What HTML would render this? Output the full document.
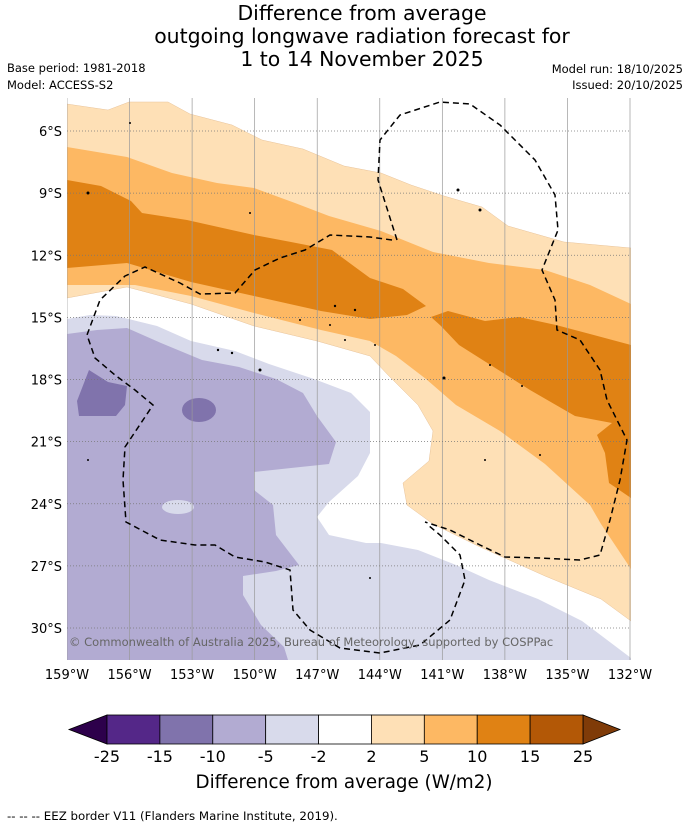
<!DOCTYPE html>
<html><head><meta charset="utf-8"><style>
body{margin:0;background:#fff;font-family:"Liberation Sans","DejaVu Sans",sans-serif}
svg{display:block}
</style></head><body>
<svg id="chart" width="690" height="827" viewBox="0 0 690 827" xmlns="http://www.w3.org/2000/svg">
<g font-family="DejaVu Sans, Liberation Sans, sans-serif" fill="#000">
<text x="362" y="20" font-size="20.4" text-anchor="middle">Difference from average</text>
<text x="362" y="43" font-size="20.4" text-anchor="middle">outgoing longwave radiation forecast for</text>
<text x="362" y="66" font-size="20.4" text-anchor="middle">1 to 14 November 2025</text>
</g>
<g font-family="DejaVu Sans, Liberation Sans, sans-serif" font-size="11.5">
<text x="7" y="72">Base period: 1981-2018</text>
<text x="7" y="89">Model: ACCESS-S2</text>
<text x="683" y="73" text-anchor="end">Model run: 18/10/2025</text>
<text x="683" y="89" text-anchor="end">Issued: 20/10/2025</text>
</g>
<defs><clipPath id="mapclip"><rect x="67" y="98" width="564" height="562"/></clipPath></defs>
<g clip-path="url(#mapclip)">
<rect x="67" y="98" width="564" height="562" fill="#fff"/>
<polygon fill="#fee0b6" stroke="#e8c39a" stroke-width="0.5" points="67,104 108,110 129,102 168,102 190,114 232,125 262,140 303,149 344,166 381,173 411,185 444,196 482,207 508,226 564,242 631,248 631,621 601,599 545,576 478,546 433,524 407,505 403,483 429,461 433,431 418,405 388,375 370,356 317,341 254,326 191,304 127,287 67,298"/>
<polygon fill="#fdb863" points="67,147 127,157 172,173 217,183 254,188 295,203 329,216 381,231 433,252 489,263 545,270 590,285 631,304 631,569 601,524 590,505 545,464 500,431 456,405 426,379 396,356 370,341 321,330 254,313 191,296 135,285 67,285"/>
<polygon fill="#e08214" points="67,180 101,186 131,201 142,213 187,220 254,235 291,242 332,250 355,267 370,278 403,289 426,306 407,315 370,319 321,311 254,296 191,282 127,263 67,268"/>
<polygon fill="#e08214" points="431,317 448,311 485,321 519,317 556,325 590,334 631,345 631,498 609,483 605,453 597,435 612,423 575,416 530,390 489,364 459,345 441,326"/>
<polygon fill="#d8daeb" points="67,319 90,315 116,316 157,326 191,341 235,351 269,364 314,379 351,393 370,412 370,453 358,476 329,502 317,517 329,535 366,543 381,543 418,550 456,565 489,580 538,599 582,621 631,658 631,660 67,660"/>
<polygon fill="#b2abd2" points="67,334 97,330 127,328 161,343 202,360 239,367 276,379 303,393 317,416 336,442 329,464 291,468 254,472 254,490 273,505 276,535 299,565 276,571 243,576 243,595 261,625 284,647 288,660 67,660"/>
<ellipse cx="178" cy="507" rx="16" ry="7" fill="#d8daeb"/>
<polygon fill="#8073ac" points="89,370 108,382 127,386 125,405 116,416 79,416 77,401"/>
<ellipse cx="199" cy="410" rx="17" ry="12" fill="#8073ac"/>
<g id="grid"></g>
<path fill="none" stroke="#000" stroke-width="1.5" stroke-dasharray="6,4" d="M397,240 L378,180 L380,140 L400,115 L440,102 L470,104 L500,125 L535,160 L555,195 L558,230 L542,270 L555,300 L557,330 L580,340 L600,370 L607,400 L627,440 L620,480 L610,520 L600,555 L580,560 L540,558 L505,557 L480,545 L450,530 L425,522"/>
<path fill="none" stroke="#000" stroke-width="1.5" stroke-dasharray="6,4" d="M392,240 L370,237 L330,235 L305,250 L280,258 L255,270 L235,293 L200,294 L180,283 L145,267 L125,276 L100,300 L87,335 L95,358 L115,375 L135,390 L153,405 L125,447 L123,480 L126,522 L160,540 L195,545 L215,545 L235,557 L265,562 L290,570 L293,610 L310,630 L340,648 L380,653 L420,645 L450,620 L465,580 L460,555 L440,535 L428,525"/>
<g fill="#000">
<circle cx="88" cy="193" r="1.5"/><circle cx="130" cy="123" r="1"/><circle cx="250" cy="213" r="1"/>
<circle cx="458" cy="190" r="1.5"/><circle cx="480" cy="210" r="1.5"/><circle cx="335" cy="306" r="1.2"/>
<circle cx="355" cy="310" r="1.2"/><circle cx="300" cy="320" r="1"/><circle cx="330" cy="325" r="1"/>
<circle cx="345" cy="340" r="1"/><circle cx="375" cy="345" r="1"/><circle cx="218" cy="350" r="1.2"/>
<circle cx="232" cy="353" r="1.2"/><circle cx="260" cy="370" r="1.5"/><circle cx="444" cy="378" r="1.5"/>
<circle cx="485" cy="460" r="1"/><circle cx="540" cy="455" r="1"/><circle cx="370" cy="578" r="1"/>
<circle cx="490" cy="365" r="1"/><circle cx="522" cy="386" r="1"/><circle cx="88" cy="460" r="1"/>
</g>
<text x="69" y="646" font-size="11.5" fill="#666" font-family="DejaVu Sans, Liberation Sans, sans-serif">© Commonwealth of Australia 2025, Bureau of Meteorology, supported by COSPPac</text>
</g>
<g id="axes" font-family="DejaVu Sans, Liberation Sans, sans-serif" font-size="13"></g>
<g id="colorbar"></g>
<text x="344" y="788" text-anchor="middle" font-size="18.3" font-family="DejaVu Sans, Liberation Sans, sans-serif">Difference from average (W/m2)</text>
<text x="7" y="820" font-size="11.8" font-family="DejaVu Sans, Liberation Sans, sans-serif">--  --  -- EEZ border V11 (Flanders Marine Institute, 2019).</text>
</svg>
<script>
const lonTicks=[159,156,153,150,147,144,141,138,135,132];
const latTicks=[6,9,12,15,18,21,24,27,30];
const levelLabels=["-25","-15","-10","-5","-2","2","5","10","15","25"];
const levelColors=["#542788","#8073ac","#b2abd2","#d8daeb","#ffffff","#fee0b6","#fdb863","#e08214","#b35806"];
const extendColors=["#2d004b","#7f3b08"];
const NS="http://www.w3.org/2000/svg";
const xOf=lon=>67+(159-lon)*(563/27);
const yOf=lat=>131+(lat-6)*(497/24);
function mk(t,a){const e=document.createElementNS(NS,t);for(const k in a)e.setAttribute(k,a[k]);return e;}
const grid=document.getElementById('grid'),axes=document.getElementById('axes');
lonTicks.forEach(l=>{
  const x=xOf(l);
  const g=mk('line',{x1:x,x2:x,y1:98,y2:660,stroke:'#999','stroke-width':0.7});
  
  
  grid.appendChild(g);
  const t=mk('text',{x:x,y:679,'text-anchor':'middle'});t.textContent=l+'°W';
  
  
  axes.appendChild(t);
});
latTicks.forEach(l=>{
  const y=yOf(l);
  const g=mk('line',{x1:67,x2:631,y1:y,y2:y,stroke:'#777','stroke-width':0.7,'stroke-dasharray':'1,2'});
  
  
  grid.appendChild(g);
  const t=mk('text',{x:62,y:y+5,'text-anchor':'end'});t.textContent=l+'°S';
  
  
  axes.appendChild(t);
});
const cb=document.getElementById('colorbar');
const x0=107,x1=583,y0=715,h=29,w=(x1-x0)/levelColors.length;
const l=mk('polygon',{points:`${x0},${y0} ${x0},${y0+h} 69,${y0+h/2}`,fill:extendColors[0],stroke:'#000','stroke-width':0.8});


cb.appendChild(l);
const r=mk('polygon',{points:`${x1},${y0} ${x1},${y0+h} 620,${y0+h/2}`,fill:extendColors[1],stroke:'#000','stroke-width':0.8});


cb.appendChild(r);
levelColors.forEach((c,i)=>{
  const b=mk('rect',{x:x0+i*w,y:y0,width:w,height:h,fill:c,stroke:'#000','stroke-width':0.8});
  
  
  cb.appendChild(b);
});
levelLabels.forEach((s,i)=>{
  const t=mk('text',{x:x0+i*w,y:762,'text-anchor':'middle','font-size':16,'font-family':'DejaVu Sans, Liberation Sans, sans-serif'});
  t.textContent=s;
  
  
  cb.appendChild(t);
});
</script>
</body></html>
